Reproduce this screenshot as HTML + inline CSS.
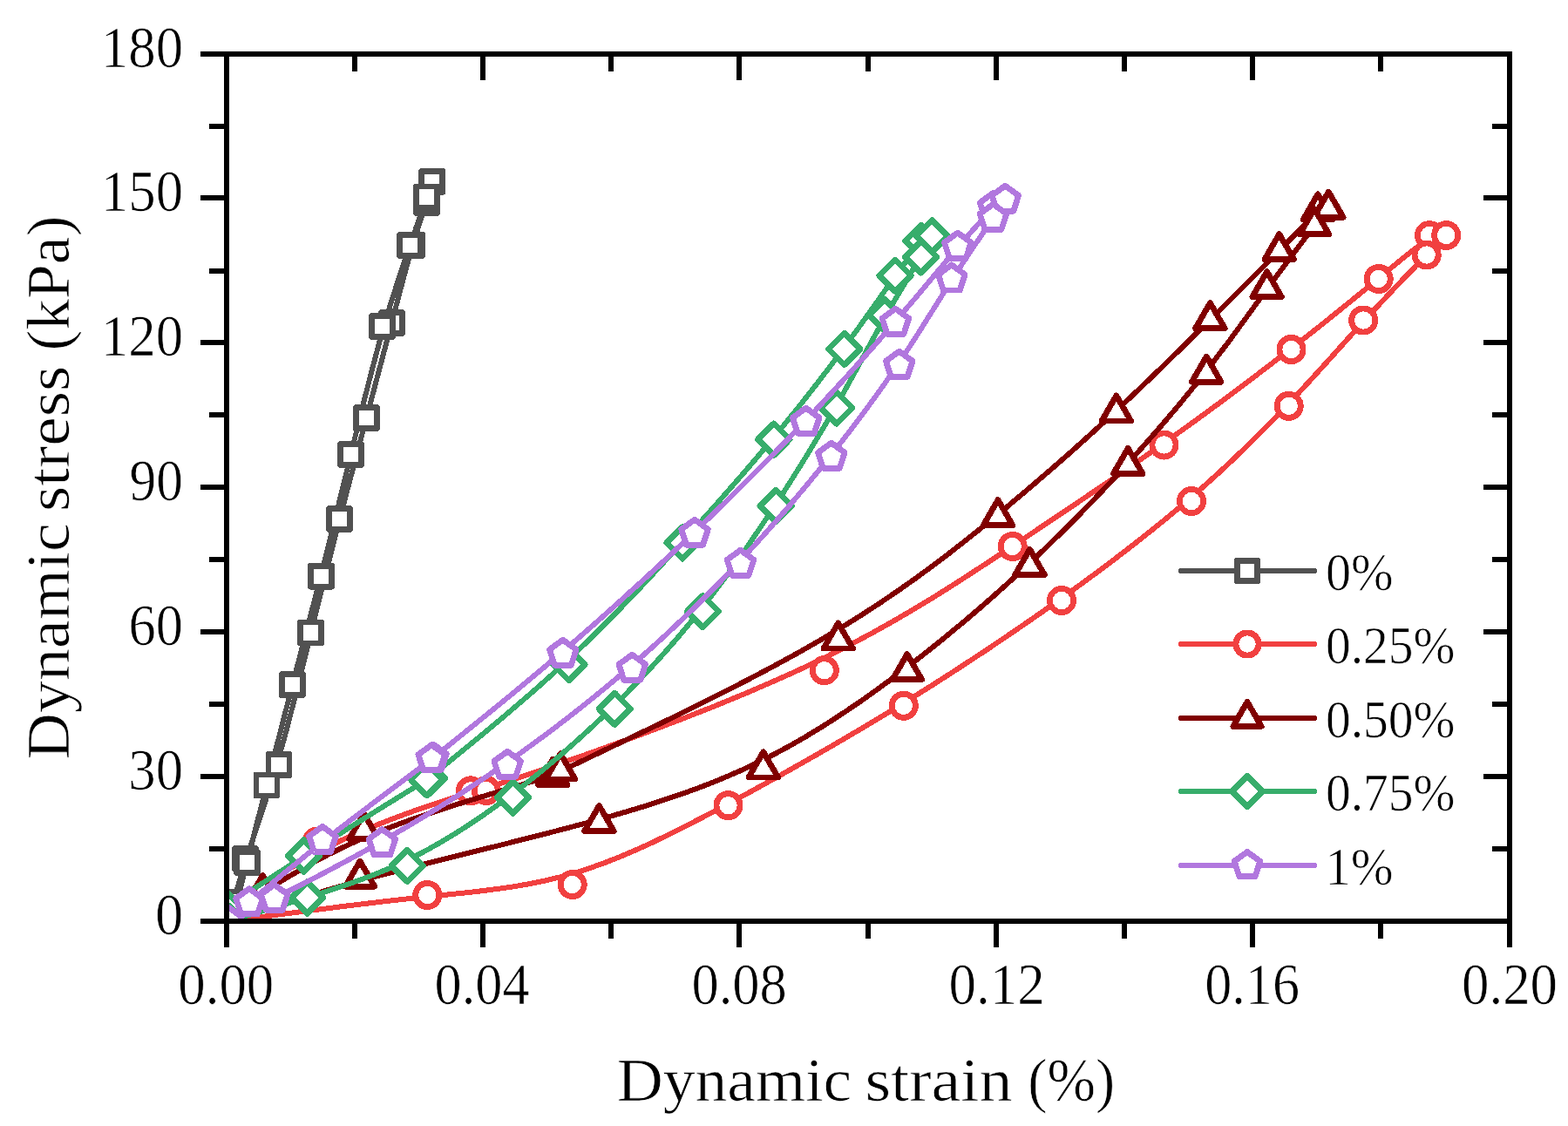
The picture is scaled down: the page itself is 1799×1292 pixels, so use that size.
<!DOCTYPE html>
<html lang="en"><head><meta charset="utf-8"><title>Dynamic stress vs dynamic strain</title>
<style>html,body{margin:0;padding:0;background:#fff}body{width:1799px;height:1292px;overflow:hidden}svg{display:block}text{font-family:"Liberation Serif",serif;fill:#000;stroke:#fff;stroke-width:0.7}.ln{fill:none;stroke-width:6;stroke-linejoin:round;stroke-linecap:round}.mk{fill:#fff;stroke-width:6.8;stroke-linejoin:round}.ax{stroke:#000;stroke-width:6;fill:none;stroke-linecap:butt;shape-rendering:crispEdges}.cr{shape-rendering:crispEdges}</style></head><body>
<svg width="1799" height="1292" viewBox="0 0 1799 1292">
<rect width="1799" height="1292" fill="#fff"/>
<defs><clipPath id="pc"><rect x="260" y="62" width="1472" height="995"/></clipPath></defs>
<g clip-path="url(#pc)" class="cr">
<g stroke="#515151">
<path class="ln" d="M268,1035 L269.4,1030 L270.7,1025 L272.2,1019.9 L273.7,1014.6 L275.3,1009 L277,1003.2 L278.9,997 L280.9,990.4 L283.2,983.3 L285.6,975.7 L288.4,967.6 L291.3,958.8 L294.4,949.5 L297.7,939.7 L301.2,929.3 L304.7,918.5 L308.4,907.1 L312.1,895.2 L315.8,882.9 L319.6,870.2 L323.3,857 L327.1,843.5 L330.8,829.6 L334.4,815.5 L338.1,801.2 L341.7,786.8 L345.3,772.4 L348.9,758 L352.4,743.7 L355.9,729.5 L359.4,715.5 L362.8,701.7 L366.2,688.1 L369.5,674.7 L372.9,661.4 L376.2,648.4 L379.5,635.5 L382.7,622.8 L385.9,610.3 L389.1,597.9 L392.3,585.6 L395.5,573.5 L398.6,561.5 L401.8,549.7 L404.9,537.9 L408,526.3 L411,514.8 L414.1,503.3 L417.1,492 L420.1,480.7 L423.1,469.5 L426.1,458.4 L429,447.3 L431.9,436.4 L434.8,425.6 L437.6,414.9 L440.4,404.3 L443.2,394 L445.9,383.8 L448.5,373.8 L451.1,364 L453.6,354.4 L456.1,345 L458.5,336 L460.8,327.2 L463.1,318.7 L465.3,310.5 L467.4,302.6 L469.5,295.2 L471.6,288.1 L473.5,281.4 L475.4,275.1 L477.3,269.1 L479,263.5 L480.7,258.3 L482.3,253.4 L483.8,248.8 L485.2,244.4 L486.5,240.4 L487.7,236.6 L488.8,233.1 L489.8,229.9 L490.7,226.9 L491.5,224.2 L492.1,221.8 L492.7,219.8 L493.1,218.1 L493.4,216.8 L493.6,215.9 L493.6,215.3 L493.6,215.2 L493.4,215.5 L493.1,216.2 L492.6,217.3 L492.1,218.9 L491.4,220.8 L490.6,223.1 L489.6,225.8 L488.6,228.8 L487.4,232.3 L486.1,236.1 L484.6,240.4 L483,245 L481.3,249.9 L479.5,255.3 L477.5,261 L475.5,267.1 L473.2,273.6 L470.9,280.5 L468.4,287.7 L465.8,295.3 L463,303.3 L460.2,311.8 L457.2,320.6 L454.2,329.9 L451.1,339.7 L447.8,349.9 L444.6,360.6 L441.2,371.8 L437.8,383.5 L434.4,395.8 L431,408.6 L427.5,421.7 L424,435.2 L420.5,449 L416.9,463.1 L413.4,477.3 L409.9,491.6 L406.3,505.9 L402.8,520.3 L399.3,534.6 L395.9,548.8 L392.4,562.9 L389,576.9 L385.6,590.8 L382.2,604.6 L378.8,618.3 L375.4,631.9 L372,645.3 L368.6,658.6 L365.3,671.7 L362,684.7 L358.6,697.5 L355.3,710.3 L352,722.8 L348.8,735.3 L345.5,747.7 L342.3,759.9 L339.1,772 L336,784.1 L332.9,796 L329.8,807.9 L326.8,819.6 L323.8,831.1 L320.9,842.6 L318,853.8 L315.2,864.8 L312.4,875.6 L309.7,886.2 L307.1,896.5 L304.5,906.6 L302,916.4 L299.6,925.9 L297.2,935.2 L294.9,944.3 L292.7,953.1 L290.5,961.6 L288.4,970 L286.3,978.1 L284.3,986 L282.3,993.7 L280.4,1001.2 L278.5,1008.5 L276.7,1015.7 L274.9,1022.8 L273.1,1029.8 L271.3,1036.7 L269.5,1043.5 L267.8,1050.2 L266,1057"/>
<g class="mk">
<rect x="256" y="1023" width="24" height="24"/>
<rect x="269.5" y="973.5" width="24" height="24"/>
<rect x="307.9" y="865.4" width="24" height="24"/>
<rect x="344.5" y="714" width="24" height="24"/>
<rect x="377.5" y="583.4" width="24" height="24"/>
<rect x="408.4" y="467.6" width="24" height="24"/>
<rect x="437.5" y="358.4" width="24" height="24"/>
<rect x="460.6" y="269.4" width="24" height="24"/>
<rect x="477.5" y="220.5" width="24" height="24"/>
<rect x="483.7" y="196.4" width="24" height="24"/>
<rect x="477.5" y="214" width="24" height="24"/>
<rect x="458.6" y="269.4" width="24" height="24"/>
<rect x="426.5" y="362.6" width="24" height="24"/>
<rect x="390.5" y="509.5" width="24" height="24"/>
<rect x="356.5" y="649.1" width="24" height="24"/>
<rect x="323.4" y="773.6" width="24" height="24"/>
<rect x="293.9" y="889" width="24" height="24"/>
<rect x="271.5" y="977.5" width="24" height="24"/>
<rect x="254" y="1045" width="24" height="24"/>
</g></g>
<g stroke="#F14040">
<path class="ln" d="M260,1050 L270.4,1041.9 L280.8,1033.8 L291.4,1025.7 L302.2,1017.7 L313.3,1009.8 L324.7,1001.9 L336.6,994.2 L349,986.7 L362,979.2 L375.7,972 L390,965 L404.8,958.2 L419.9,951.7 L435,945.5 L450,939.7 L464.5,934.3 L478.3,929.3 L491.2,924.8 L503.1,920.9 L513.5,917.5 L522.5,914.7 L530.5,912.3 L537.9,910.1 L545.3,907.9 L553.3,905.6 L562.3,902.8 L572.8,899.5 L585.6,895.4 L600.9,890.3 L619.4,884.1 L641.5,876.5 L666.7,867.7 L694.5,857.8 L724.4,846.9 L755.9,835.1 L788.3,822.7 L821.2,809.7 L854,796.2 L886.1,782.4 L917.1,768.5 L946.5,754.4 L974.2,740.4 L1000.5,726.4 L1025.5,712.4 L1049.3,698.5 L1072,684.8 L1093.7,671.1 L1114.7,657.6 L1135,644.3 L1154.7,631.3 L1174,618.5 L1192.8,605.9 L1211.3,593.6 L1229.4,581.4 L1247.1,569.4 L1264.5,557.6 L1281.6,546 L1298.3,534.4 L1314.7,523 L1330.9,511.7 L1346.7,500.4 L1362.3,489.2 L1377.5,478.2 L1392.4,467.3 L1407,456.5 L1421.2,445.9 L1435,435.5 L1448.4,425.3 L1461.3,415.4 L1473.9,405.7 L1485.9,396.4 L1497.6,387.3 L1508.8,378.5 L1519.5,370 L1529.8,361.7 L1539.6,353.8 L1549,346.2 L1558,338.9 L1566.6,331.9 L1574.7,325.2 L1582.4,318.8 L1589.7,312.7 L1596.6,307 L1603.1,301.6 L1609.2,296.7 L1614.8,292.1 L1620.1,288 L1624.9,284.3 L1629.4,281.1 L1633.5,278.3 L1637.2,276.1 L1640.4,274.3 L1643.3,273 L1645.8,272 L1647.9,271.5 L1649.6,271.3 L1650.9,271.5 L1651.7,272 L1652.2,272.7 L1652.2,273.8 L1651.9,275 L1651.1,276.5 L1649.8,278.3 L1648.2,280.4 L1646,282.8 L1643.5,285.6 L1640.4,288.9 L1636.9,292.5 L1632.9,296.6 L1628.4,301.2 L1623.4,306.4 L1617.9,312 L1612,318.1 L1605.8,324.6 L1599.1,331.6 L1592.2,338.9 L1585,346.6 L1577.5,354.6 L1569.9,362.8 L1562,371.4 L1554.1,380.2 L1546,389.2 L1537.7,398.4 L1529.3,407.8 L1520.6,417.4 L1511.8,427.1 L1502.8,437 L1493.5,447.1 L1484.1,457.3 L1474.3,467.6 L1464.3,478 L1454.1,488.6 L1443.5,499.2 L1432.7,509.9 L1421.5,520.7 L1410.1,531.6 L1398.3,542.6 L1386.1,553.6 L1373.6,564.7 L1360.8,575.8 L1347.6,587 L1334,598.2 L1320,609.5 L1305.7,620.8 L1291.1,632.2 L1276,643.7 L1260.7,655.2 L1245,666.8 L1229,678.4 L1212.6,690.1 L1196,701.9 L1179,713.7 L1161.7,725.6 L1144.1,737.5 L1126.3,749.4 L1108.2,761.3 L1089.9,773.2 L1071.3,785.1 L1052.5,796.9 L1033.4,808.7 L1014.2,820.5 L994.9,832.1 L975.4,843.6 L955.8,855.1 L936.2,866.4 L916.6,877.5 L897.1,888.5 L877.7,899.3 L858.4,909.9 L839.2,920.3 L820.4,930.4 L801.7,940.2 L783.2,949.7 L764.9,958.8 L746.8,967.5 L728.9,975.6 L711.2,983.1 L693.5,990.1 L676.1,996.3 L658.8,1001.9 L641.6,1006.6 L624.4,1010.7 L607.2,1014.2 L589.9,1017.2 L572.5,1019.7 L554.8,1022 L536.7,1024.1 L518.3,1026 L499.4,1028 L480,1030 L459.9,1032.2 L439.4,1034.5 L418.3,1037 L396.8,1039.6 L374.9,1042.4 L352.7,1045.2 L330.2,1048.1 L307.6,1051 L284.8,1054 L262,1057"/>
<g class="mk">
<circle cx="260" cy="1050" r="13.6"/>
<circle cx="363.5" cy="965.7" r="13.6"/>
<circle cx="540" cy="907.3" r="13.6"/>
<circle cx="557.7" cy="907" r="13.6"/>
<circle cx="945.8" cy="769.2" r="13.6"/>
<circle cx="1161.7" cy="627" r="13.6"/>
<circle cx="1335.5" cy="510.5" r="13.6"/>
<circle cx="1481.5" cy="401" r="13.6"/>
<circle cx="1581.7" cy="320" r="13.6"/>
<circle cx="1640" cy="270" r="13.6"/>
<circle cx="1659.2" cy="270" r="13.6"/>
<circle cx="1636.7" cy="292.5" r="13.6"/>
<circle cx="1564.2" cy="367.5" r="13.6"/>
<circle cx="1478.7" cy="465.8" r="13.6"/>
<circle cx="1367" cy="575" r="13.6"/>
<circle cx="1218" cy="689" r="13.6"/>
<circle cx="1036.8" cy="809.8" r="13.6"/>
<circle cx="835.5" cy="924.2" r="13.6"/>
<circle cx="656.7" cy="1015" r="13.6"/>
<circle cx="490.3" cy="1027" r="13.6"/>
<circle cx="262" cy="1057" r="13.6"/>
</g></g>
<g stroke="#800000">
<path class="ln" d="M260,1050 L264.1,1047.4 L268.4,1044.7 L272.7,1042 L277.3,1039.1 L282.2,1036.1 L287.5,1032.8 L293.2,1029.2 L299.4,1025.4 L306.3,1021.1 L313.8,1016.5 L322,1011.4 L331.1,1006 L340.9,1000.2 L351.5,994.1 L363.1,987.7 L375.4,981.2 L388.7,974.6 L402.9,967.9 L418.1,961.2 L434.2,954.5 L451.3,947.9 L469.1,941.4 L487.3,935.1 L505.6,929 L523.6,923.2 L541.1,917.8 L557.8,912.7 L573.3,908 L587.3,903.8 L599.5,900.1 L609.9,896.9 L618.6,894 L626.3,891.4 L633.5,888.6 L640.7,885.7 L648.4,882.3 L657.1,878.2 L667.4,873.4 L679.7,867.5 L694.6,860.3 L712.5,851.8 L733,842 L755.7,831.1 L780.2,819.2 L806,806.4 L832.7,793 L859.7,779.1 L886.8,764.8 L913.4,750.3 L939.1,735.7 L963.6,721.2 L986.7,706.8 L1008.7,692.5 L1029.6,678.3 L1049.5,664.3 L1068.5,650.4 L1086.7,636.7 L1104.1,623.1 L1120.9,609.8 L1137.1,596.6 L1152.8,583.7 L1168.1,570.9 L1182.9,558.4 L1197.3,546 L1211.3,533.9 L1225,521.9 L1238.2,510.1 L1251.2,498.4 L1263.8,486.9 L1276.1,475.5 L1288.1,464.3 L1299.9,453.2 L1311.3,442.3 L1322.5,431.6 L1333.4,421 L1344,410.6 L1354.4,400.5 L1364.4,390.6 L1374.2,380.9 L1383.7,371.5 L1392.9,362.4 L1401.8,353.6 L1410.4,345 L1418.7,336.7 L1426.7,328.8 L1434.4,321.1 L1441.8,313.7 L1448.8,306.7 L1455.5,299.9 L1461.9,293.5 L1467.9,287.5 L1473.5,281.7 L1478.8,276.4 L1483.8,271.3 L1488.5,266.7 L1492.8,262.4 L1496.7,258.6 L1500.4,255.1 L1503.7,252 L1506.7,249.4 L1509.3,247.2 L1511.7,245.4 L1513.7,244 L1515.5,242.9 L1516.9,242.2 L1518,241.8 L1518.8,241.8 L1519.4,242 L1519.6,242.5 L1519.5,243.2 L1519.2,244.2 L1518.5,245.4 L1517.6,246.9 L1516.3,248.7 L1514.8,250.8 L1512.8,253.3 L1510.6,256.3 L1508,259.6 L1505,263.4 L1501.6,267.8 L1497.9,272.6 L1493.8,277.9 L1489.4,283.7 L1484.7,290 L1479.7,296.6 L1474.4,303.7 L1468.9,311.1 L1463.1,318.8 L1457.2,326.9 L1451.1,335.2 L1444.8,343.8 L1438.4,352.7 L1431.8,361.7 L1425.1,371 L1418.2,380.4 L1411.1,390.1 L1403.8,399.8 L1396.3,409.7 L1388.6,419.7 L1380.8,429.8 L1372.7,440 L1364.4,450.2 L1355.9,460.6 L1347.2,471 L1338.3,481.5 L1329.2,492.1 L1319.8,502.9 L1310.2,513.7 L1300.4,524.6 L1290.4,535.6 L1280.2,546.7 L1269.7,557.9 L1259,569.2 L1248,580.6 L1236.8,592.1 L1225.3,603.6 L1213.6,615.2 L1201.6,626.9 L1189.4,638.6 L1176.8,650.4 L1164,662.3 L1150.9,674.1 L1137.6,686 L1124,697.9 L1110.1,709.8 L1095.9,721.6 L1081.5,733.5 L1066.8,745.3 L1051.9,757 L1036.7,768.6 L1021.3,780.2 L1005.7,791.7 L989.8,803 L973.7,814 L957.3,824.9 L940.7,835.4 L923.9,845.6 L906.8,855.4 L889.5,864.8 L871.9,873.8 L854.1,882.2 L836,890.2 L817.6,897.8 L798.7,905.1 L779.3,912 L759.4,918.7 L738.9,925.3 L717.7,931.7 L695.8,938 L673.1,944.2 L649.5,950.5 L625.3,956.8 L600.7,963 L575.9,969.3 L551,975.4 L526.3,981.6 L502,987.6 L478.3,993.6 L455.4,999.4 L433.6,1005.1 L412.9,1010.7 L393.3,1016.2 L374.8,1021.5 L357,1026.8 L340.1,1032 L323.7,1037 L307.9,1042.1 L292.4,1047.1 L277.1,1052 L262,1057"/>
<g class="mk">
<path d="M260,1030.6 L276.8,1059.7 L243.2,1059.7 Z"/>
<path d="M301.3,1004.6 L318.1,1033.7 L284.5,1033.7 Z"/>
<path d="M417.5,933.6 L434.3,962.7 L400.7,962.7 Z"/>
<path d="M634.2,871.4 L651,900.5 L617.4,900.5 Z"/>
<path d="M643,864.8 L659.8,893.9 L626.2,893.9 Z"/>
<path d="M961.7,714.9 L978.5,744 L944.9,744 Z"/>
<path d="M1145,573.6 L1161.8,602.7 L1128.2,602.7 Z"/>
<path d="M1280.8,453.9 L1297.6,483 L1264,483 Z"/>
<path d="M1388.4,347.6 L1405.2,376.7 L1371.6,376.7 Z"/>
<path d="M1467.7,268.6 L1484.5,297.7 L1450.9,297.7 Z"/>
<path d="M1512,222.8 L1528.8,251.9 L1495.2,251.9 Z"/>
<path d="M1524.3,220.1 L1541.1,249.2 L1507.5,249.2 Z"/>
<path d="M1508,239.6 L1524.8,268.7 L1491.2,268.7 Z"/>
<path d="M1453.6,311.6 L1470.4,340.7 L1436.8,340.7 Z"/>
<path d="M1384.2,409.1 L1401,438.2 L1367.4,438.2 Z"/>
<path d="M1294.2,514.4 L1311,543.5 L1277.4,543.5 Z"/>
<path d="M1181.5,630.3 L1198.3,659.4 L1164.7,659.4 Z"/>
<path d="M1040.8,750.6 L1057.6,779.7 L1024,779.7 Z"/>
<path d="M875.8,862.8 L892.6,891.9 L859,891.9 Z"/>
<path d="M687.4,924.5 L704.2,953.6 L670.6,953.6 Z"/>
<path d="M413,988.1 L429.8,1017.2 L396.2,1017.2 Z"/>
<path d="M262,1037.6 L278.8,1066.7 L245.2,1066.7 Z"/>
</g></g>
<g stroke="#37AD6B">
<path class="ln" d="M259,1041 L268,1035.1 L277,1029.2 L286.1,1023.2 L295.4,1017.1 L304.9,1010.9 L314.7,1004.5 L324.8,998 L335.3,991.2 L346.2,984.2 L357.6,977 L369.5,969.4 L381.8,961.7 L394.2,953.9 L406.5,946.2 L418.6,938.7 L430.2,931.4 L441.2,924.6 L451.3,918.4 L460.3,912.8 L468.1,908 L474.5,904 L479.7,900.7 L484,897.9 L487.9,895.4 L491.5,892.8 L495.2,890 L499.3,886.8 L504.2,882.9 L510.1,878.2 L517.3,872.3 L526.1,865.1 L536.4,856.7 L547.9,847.3 L560.5,836.9 L574,825.6 L588.1,813.6 L602.7,801.1 L617.6,788.1 L632.5,774.8 L647.3,761.3 L661.8,747.7 L676,734 L689.9,720.3 L703.4,706.7 L716.7,693 L729.7,679.5 L742.3,666 L754.7,652.7 L766.9,639.5 L778.8,626.4 L790.4,613.6 L801.8,601 L812.9,588.6 L823.8,576.4 L834.4,564.3 L844.7,552.5 L854.9,540.8 L864.8,529.3 L874.4,517.9 L883.8,506.7 L893,495.6 L901.9,484.7 L910.6,474 L919.1,463.4 L927.3,453 L935.3,442.8 L943,432.7 L950.6,422.9 L957.9,413.2 L964.9,403.7 L971.8,394.4 L978.4,385.3 L984.8,376.5 L990.9,367.9 L996.8,359.6 L1002.4,351.7 L1007.8,344.1 L1012.9,336.8 L1017.7,330 L1022.3,323.6 L1026.6,317.6 L1030.6,312 L1034.3,306.9 L1037.8,302.2 L1041,297.9 L1044.1,294 L1046.9,290.4 L1049.5,287.3 L1051.9,284.5 L1054.1,282 L1056.1,280 L1057.9,278.2 L1059.6,276.8 L1061.1,275.7 L1062.3,274.9 L1063.3,274.5 L1064.2,274.4 L1064.7,274.5 L1065.1,275 L1065.2,275.8 L1065.1,276.9 L1064.7,278.3 L1064,280 L1063.1,282 L1061.9,284.4 L1060.4,287.2 L1058.7,290.3 L1056.7,293.8 L1054.4,297.7 L1051.8,302.1 L1049,306.8 L1045.9,312 L1042.5,317.6 L1038.9,323.7 L1035.1,330.1 L1031,337 L1026.7,344.2 L1022.3,351.9 L1017.7,360 L1012.9,368.4 L1008,377.3 L1002.9,386.5 L997.7,396 L992.4,405.8 L986.9,415.9 L981.3,426.2 L975.5,436.7 L969.6,447.4 L963.6,458.2 L957.4,469.1 L951.1,480 L944.6,491.1 L938,502.2 L931.3,513.3 L924.4,524.6 L917.4,535.9 L910.2,547.3 L902.9,558.8 L895.5,570.3 L887.9,582 L880.1,593.7 L872.2,605.5 L864.2,617.3 L856,629.2 L847.6,641.1 L839.1,653 L830.5,664.8 L821.6,676.7 L812.6,688.4 L803.5,700.1 L794.1,711.7 L784.6,723.2 L775,734.6 L765.1,745.9 L755.1,757.1 L745,768.2 L734.6,779.2 L724.1,790.1 L713.5,800.9 L702.7,811.6 L691.7,822.3 L680.6,832.8 L669.4,843.1 L658,853.4 L646.5,863.5 L634.9,873.4 L623.3,883.1 L611.5,892.7 L599.7,902 L587.8,911.1 L575.9,920 L564,928.6 L552,937 L540,945.1 L528,952.8 L516,960.3 L504,967.4 L492.1,974.1 L480.2,980.5 L468.4,986.4 L456.6,992 L444.9,997.1 L433.3,1001.9 L421.9,1006.4 L410.5,1010.6 L399.4,1014.6 L388.4,1018.3 L377.5,1021.8 L366.9,1025.2 L356.6,1028.4 L346.4,1031.5 L336.5,1034.6 L326.7,1037.6 L317.2,1040.5 L307.8,1043.3 L298.5,1046.1 L289.3,1048.9 L280.1,1051.6 L271.1,1054.3 L262,1057"/>
<g class="mk">
<path d="M259,1022.8 L277.2,1041 L259,1059.2 L240.8,1041 Z"/>
<path d="M348.5,963.8 L366.7,982 L348.5,1000.2 L330.3,982 Z"/>
<path d="M492.6,874.6 L510.8,892.8 L492.6,911 L474.4,892.8 Z"/>
<path d="M489.6,876.4 L507.8,894.6 L489.6,912.8 L471.4,894.6 Z"/>
<path d="M652.8,744.3 L671,762.5 L652.8,780.7 L634.6,762.5 Z"/>
<path d="M783,604.8 L801.2,623 L783,641.2 L764.8,623 Z"/>
<path d="M887.8,486 L906,504.2 L887.8,522.4 L869.6,504.2 Z"/>
<path d="M968.7,382.2 L986.9,400.4 L968.7,418.6 L950.5,400.4 Z"/>
<path d="M1027,298 L1045.2,316.2 L1027,334.4 L1008.8,316.2 Z"/>
<path d="M1057,258.1 L1075.2,276.3 L1057,294.5 L1038.8,276.3 Z"/>
<path d="M1069.4,252.7 L1087.6,270.9 L1069.4,289.1 L1051.2,270.9 Z"/>
<path d="M1056.6,276.7 L1074.8,294.9 L1056.6,313.1 L1038.4,294.9 Z"/>
<path d="M1015.3,343.7 L1033.5,361.9 L1015.3,380.1 L997.1,361.9 Z"/>
<path d="M959.7,449.8 L977.9,468 L959.7,486.2 L941.5,468 Z"/>
<path d="M890.3,562.3 L908.5,580.5 L890.3,598.7 L872.1,580.5 Z"/>
<path d="M806.3,683.5 L824.5,701.7 L806.3,719.9 L788.1,701.7 Z"/>
<path d="M705.3,795.1 L723.5,813.3 L705.3,831.5 L687.1,813.3 Z"/>
<path d="M588.6,896.8 L606.8,915 L588.6,933.2 L570.4,915 Z"/>
<path d="M467.3,975.2 L485.5,993.4 L467.3,1011.6 L449.1,993.4 Z"/>
<path d="M352.5,1011.8 L370.7,1030 L352.5,1048.2 L334.3,1030 Z"/>
<path d="M262,1038.8 L280.2,1057 L262,1075.2 L243.8,1057 Z"/>
</g></g>
<g stroke="#B177DE">
<path class="ln" d="M260,1057 L262.6,1054.9 L265.3,1052.7 L268.1,1050.4 L271,1048 L274.2,1045.4 L277.7,1042.5 L281.5,1039.3 L285.7,1035.8 L290.4,1031.8 L295.7,1027.4 L301.5,1022.6 L307.8,1017.2 L314.7,1011.4 L322.1,1005.2 L330.1,998.6 L338.6,991.7 L347.5,984.3 L356.9,976.7 L366.8,968.8 L377.2,960.6 L387.9,952.2 L398.9,943.7 L410,935.3 L421,926.9 L431.7,918.8 L442,911 L451.7,903.7 L460.7,897 L468.7,891 L475.5,885.9 L481.2,881.6 L485.9,878.1 L489.8,875.1 L493.3,872.5 L496.6,869.9 L500,867.1 L503.9,864.1 L508.4,860.4 L513.9,856 L520.6,850.6 L528.8,844 L538.3,836.3 L549.1,827.6 L560.9,818 L573.7,807.7 L587.2,796.6 L601.3,784.9 L615.9,772.7 L630.8,760.2 L645.9,747.4 L661,734.4 L676.1,721.2 L691.1,707.9 L706.1,694.6 L720.9,681.1 L735.7,667.7 L750.3,654.2 L764.8,640.7 L779,627.3 L793.1,614 L806.9,600.7 L820.5,587.6 L833.9,574.5 L847,561.6 L859.8,548.8 L872.5,536.1 L884.9,523.5 L897,511.1 L908.9,498.8 L920.5,486.6 L931.9,474.6 L943.1,462.7 L953.9,451 L964.5,439.5 L974.9,428.2 L984.9,417 L994.7,406.1 L1004.2,395.4 L1013.3,385 L1022.2,374.8 L1030.7,364.9 L1039,355.2 L1046.9,345.9 L1054.5,336.9 L1061.8,328.2 L1068.8,319.8 L1075.5,311.8 L1081.9,304.2 L1087.9,296.9 L1093.7,290.1 L1099.1,283.7 L1104.3,277.6 L1109.1,272 L1113.7,266.8 L1118,262 L1121.9,257.6 L1125.6,253.5 L1129,249.9 L1132.2,246.6 L1135,243.7 L1137.6,241.2 L1139.9,239.1 L1142,237.3 L1143.8,235.9 L1145.3,234.8 L1146.5,234 L1147.5,233.6 L1148.1,233.5 L1148.6,233.7 L1148.7,234.2 L1148.6,235 L1148.1,236.1 L1147.4,237.5 L1146.4,239.3 L1145.1,241.4 L1143.5,244 L1141.6,246.9 L1139.3,250.3 L1136.8,254.1 L1133.8,258.4 L1130.6,263.2 L1127.1,268.4 L1123.2,274.1 L1119.1,280.2 L1114.7,286.8 L1110.1,293.7 L1105.2,301 L1100.2,308.7 L1095.1,316.6 L1089.7,324.9 L1084.3,333.5 L1078.7,342.4 L1073,351.5 L1067.1,360.8 L1061.1,370.4 L1055,380.1 L1048.7,390 L1042.2,400 L1035.5,410.1 L1028.7,420.2 L1021.7,430.5 L1014.6,440.8 L1007.2,451.2 L999.6,461.7 L991.8,472.3 L983.8,483 L975.6,493.9 L967.1,504.8 L958.4,516 L949.4,527.3 L940.2,538.8 L930.7,550.4 L920.9,562.2 L910.9,574.1 L900.7,586.1 L890.2,598.2 L879.5,610.3 L868.6,622.5 L857.5,634.6 L846.2,646.8 L834.7,658.9 L822.9,671 L811,683.1 L798.9,695.1 L786.6,707 L774.1,718.9 L761.4,730.8 L748.5,742.5 L735.4,754.2 L722.1,765.8 L708.7,777.3 L695.1,788.7 L681.3,800 L667.4,811.1 L653.3,822.2 L639.2,833 L625,843.7 L610.7,854.2 L596.4,864.6 L582.1,874.7 L567.7,884.6 L553.4,894.3 L539.1,903.7 L524.9,913 L510.7,922 L496.6,930.7 L482.7,939.2 L468.9,947.5 L455.2,955.5 L441.7,963.3 L428.5,970.8 L415.5,978.1 L402.8,985 L390.4,991.7 L378.4,998.1 L367,1004.1 L356,1009.8 L345.5,1015.2 L335.7,1020.2 L326.5,1024.9 L318.1,1029.2 L310.2,1033.1 L302.9,1036.8 L296.2,1040.2 L289.8,1043.3 L283.8,1046.3 L278.1,1049.1 L272.6,1051.8 L267.3,1054.4 L262,1057"/>
<g class="mk">
<path d="M260,1040.9 L275.3,1052 L269.5,1070 L250.5,1070 L244.7,1052 Z"/>
<path d="M286,1019.7 L301.3,1030.8 L295.5,1048.8 L276.5,1048.8 L270.7,1030.8 Z"/>
<path d="M370,948.4 L385.3,959.5 L379.5,977.5 L360.5,977.5 L354.7,959.5 Z"/>
<path d="M497,853.9 L512.3,865 L506.5,883 L487.5,883 L481.7,865 Z"/>
<path d="M495.2,854.7 L510.5,865.8 L504.7,883.8 L485.7,883.8 L479.9,865.8 Z"/>
<path d="M645.8,734.2 L661.1,745.3 L655.3,763.3 L636.3,763.3 L630.5,745.3 Z"/>
<path d="M797,596.2 L812.3,607.3 L806.5,625.3 L787.5,625.3 L781.7,607.3 Z"/>
<path d="M924.7,468.2 L940,479.3 L934.2,497.3 L915.2,497.3 L909.4,479.3 Z"/>
<path d="M1027.4,354.2 L1042.7,365.3 L1036.9,383.3 L1017.9,383.3 L1012.1,365.3 Z"/>
<path d="M1098.8,267.1 L1114.1,278.2 L1108.3,296.2 L1089.3,296.2 L1083.5,278.2 Z"/>
<path d="M1139.5,221.4 L1154.8,232.5 L1149,250.5 L1130,250.5 L1124.2,232.5 Z"/>
<path d="M1153.3,213.2 L1168.6,224.3 L1162.8,242.3 L1143.8,242.3 L1138,224.3 Z"/>
<path d="M1139.5,234.2 L1154.8,245.3 L1149,263.3 L1130,263.3 L1124.2,245.3 Z"/>
<path d="M1091.8,303.9 L1107.1,315 L1101.3,333 L1082.3,333 L1076.5,315 Z"/>
<path d="M1031.7,403.2 L1047,414.3 L1041.2,432.3 L1022.2,432.3 L1016.4,414.3 Z"/>
<path d="M953.8,508.2 L969.1,519.3 L963.3,537.3 L944.3,537.3 L938.5,519.3 Z"/>
<path d="M849.5,631.2 L864.8,642.3 L859,660.3 L840,660.3 L834.2,642.3 Z"/>
<path d="M725.3,751.2 L740.6,762.3 L734.8,780.3 L715.8,780.3 L710,762.3 Z"/>
<path d="M582.2,862.2 L597.5,873.3 L591.7,891.3 L572.7,891.3 L566.9,873.3 Z"/>
<path d="M438.4,951.5 L453.7,962.6 L447.9,980.6 L428.9,980.6 L423.1,962.6 Z"/>
<path d="M314.7,1015.1 L330,1026.2 L324.2,1044.2 L305.2,1044.2 L299.4,1026.2 Z"/>
<path d="M262,1040.9 L277.3,1052 L271.5,1070 L252.5,1070 L246.7,1052 Z"/>
</g></g>
</g>
<g class="ax">
<path d="M230,62 H1735 M230,1057 H1735 M260,62 V1087 M1732,59 V1087 M407,1057 V1077 M407,62 V82 M554,1057 V1087 M554,62 V92 M701,1057 V1077 M701,62 V82 M848,1057 V1087 M848,62 V92 M996,1057 V1077 M996,62 V82 M1143,1057 V1087 M1143,62 V92 M1290,1057 V1077 M1290,62 V82 M1437,1057 V1087 M1437,62 V92 M1584,1057 V1077 M1584,62 V82 M260,974 H240 M1732,974 H1712 M260,891 H230 M1732,891 H1702 M260,808 H240 M1732,808 H1712 M260,725 H230 M1732,725 H1702 M260,642 H240 M1732,642 H1712 M260,559 H230 M1732,559 H1702 M260,476 H240 M1732,476 H1712 M260,393 H230 M1732,393 H1702 M260,311 H240 M1732,311 H1712 M260,227 H230 M1732,227 H1702 M260,145 H240 M1732,145 H1712"/>
</g>
<text transform="translate(177.9 1071.5) scale(0.9587 1.0000)" font-size="67.3" text-anchor="start">0</text>
<text transform="translate(147.2 905.7) scale(0.9340 1.0000)" font-size="67.3" text-anchor="start">30</text>
<text transform="translate(147.5 739.8) scale(0.9289 1.0000)" font-size="67.3" text-anchor="start">60</text>
<text transform="translate(148.5 574) scale(0.9139 1.0000)" font-size="67.3" text-anchor="start">90</text>
<text transform="translate(115.8 408.2) scale(0.9338 1.0000)" font-size="67.3" text-anchor="start">120</text>
<text transform="translate(115.8 242.3) scale(0.9338 1.0000)" font-size="67.3" text-anchor="start">150</text>
<text transform="translate(115.8 76.5) scale(0.9338 1.0000)" font-size="67.3" text-anchor="start">180</text>
<text transform="translate(204.3 1151.6) scale(0.9342 1.0000)" font-size="67.3" text-anchor="start">0.00</text>
<text transform="translate(498.5 1151.6) scale(0.9266 1.0000)" font-size="67.3" text-anchor="start">0.04</text>
<text transform="translate(793.4 1151.6) scale(0.9289 1.0000)" font-size="67.3" text-anchor="start">0.08</text>
<text transform="translate(1088.4 1151.6) scale(0.9373 1.0000)" font-size="67.3" text-anchor="start">0.12</text>
<text transform="translate(1382.2 1151.6) scale(0.9243 1.0000)" font-size="67.3" text-anchor="start">0.16</text>
<text transform="translate(1677 1151.6) scale(0.9342 1.0000)" font-size="67.3" text-anchor="start">0.20</text>
<text transform="translate(707.7 1262.6) scale(1.0460 1.0000)" font-size="70.3" text-anchor="start">Dynamic</text>
<text transform="translate(992.4 1262.6) scale(1.0834 1.0000)" font-size="70.3" text-anchor="start">strain</text>
<text transform="translate(1179.2 1262.6) scale(0.9483 1.0000)" font-size="70.3" text-anchor="start">(%)</text>
<text transform="translate(79.1 871.5) rotate(-90) scale(1.0535 1.0000)" font-size="70.3" text-anchor="start">Dynamic</text>
<text transform="translate(79.1 586.9) rotate(-90) scale(1.0703 1.0000)" font-size="70.3" text-anchor="start">stress</text>
<text transform="translate(79.1 402.6) rotate(-90) scale(1.0187 1.0000)" font-size="70.3" text-anchor="start">(kPa)</text>
<text transform="translate(1520.9 677.3) scale(0.9613 1.0000)" font-size="60.6" text-anchor="start">0%</text>
<text transform="translate(1520.9 761.3) scale(0.9493 1.0000)" font-size="60.6" text-anchor="start">0.25%</text>
<text transform="translate(1520.9 846.3) scale(0.9493 1.0000)" font-size="60.6" text-anchor="start">0.50%</text>
<text transform="translate(1520.9 930.3) scale(0.9493 1.0000)" font-size="60.6" text-anchor="start">0.75%</text>
<text transform="translate(1520.5 1015.3) scale(0.9669 1.0000)" font-size="60.6" text-anchor="start">1%</text>
<g class="cr">
<g stroke="#515151"><path class="ln" d="M1354.5,655 H1508"/><g class="mk"><rect x="1419.4" y="643.4" width="23.2" height="23.2"/></g></g>
<g stroke="#F14040"><path class="ln" d="M1354.5,739 H1508"/><g class="mk"><circle cx="1431" cy="739" r="13.1"/></g></g>
<g stroke="#800000"><path class="ln" d="M1354.5,824 H1508"/><g class="mk"><path d="M1431,805.3 L1447.2,833.4 L1414.8,833.4 Z"/></g></g>
<g stroke="#37AD6B"><path class="ln" d="M1354.5,908 H1508"/><g class="mk"><path d="M1431,890.4 L1448.6,908 L1431,925.6 L1413.4,908 Z"/></g></g>
<g stroke="#B177DE"><path class="ln" d="M1354.5,993 H1508"/><g class="mk"><path d="M1431,977.5 L1445.8,988.2 L1440.1,1005.6 L1421.9,1005.6 L1416.2,988.2 Z"/></g></g>
</g>
</svg></body></html>
